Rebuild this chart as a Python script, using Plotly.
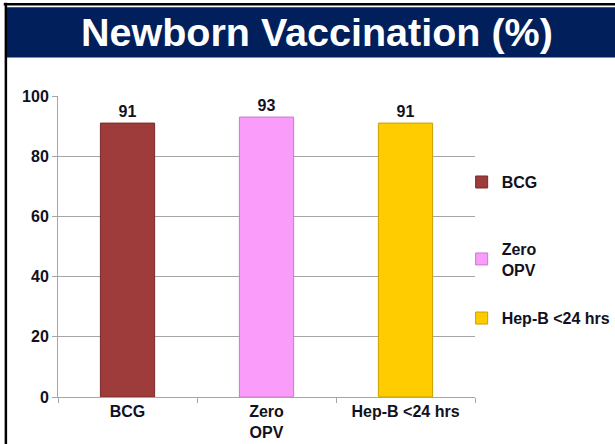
import plotly.graph_objects as go

categories = ["BCG", "Zero<br>OPV", "Hep-B <24 hrs"]
legend_names = ["BCG", "Zero<br>OPV", "Hep-B <24 hrs"]
values = [91, 93, 91]
colors = ["#9E3B3B", "#FA9CFA", "#FFCC00"]
edge_colors = ["#7A2A2A", "#C97BC9", "#C9A000"]
y_ticks = [0, 20, 40, 60, 80, 100]
legend_ids = ["legend", "legend2", "legend3"]
legend_y = [0.714, 0.458, 0.262]

FONT = "Liberation Sans, Arial, sans-serif"
TXT = "#111122"

fig = go.Figure()
for cat, name, v, c, ec, lid in zip(categories, legend_names, values, colors, edge_colors, legend_ids):
    fig.add_trace(go.Bar(
        x=[cat], y=[v], name=name, legend=lid,
        marker=dict(color=c, line=dict(color=ec, width=1)),
        text=[str(v)], textposition="outside",
        textfont=dict(family=FONT, size=16, color=TXT, weight="bold"),
        cliponaxis=False,
    ))

leg_common = dict(x=0.968, xanchor="left", yanchor="middle",
                  font=dict(family=FONT, size=16, color=TXT, weight="bold"),
                  bgcolor="rgba(0,0,0,0)", borderwidth=0)

fig.update_layout(
    template="none",
    width=615, height=444,
    margin=dict(l=58, r=140, t=96, b=47, autoexpand=False),
    paper_bgcolor="white", plot_bgcolor="white",
    barmode="overlay", bargap=0.61,
    showlegend=True,
    legend=dict(y=legend_y[0], **leg_common),
    legend2=dict(y=legend_y[1], **leg_common),
    legend3=dict(y=legend_y[2], **leg_common),
    font=dict(family=FONT, size=16, color=TXT),
    shapes=[
        dict(type="rect", xref="paper", yref="paper",
             x0=-0.125, x1=1.4, y0=1.128, y1=1.295,
             fillcolor="#001F5B", line=dict(width=0), layer="below"),
        dict(type="line", xref="paper", yref="paper",
             x0=-0.125, x1=-0.125, y0=-0.2, y1=1.31,
             line=dict(color="black", width=2.5)),
        dict(type="line", xref="paper", yref="paper",
             x0=-0.13, x1=1.4, y0=1.305, y1=1.305,
             line=dict(color="black", width=2.5)),
    ],
    annotations=[dict(
        text="Newborn Vaccination (%)", xref="paper", yref="paper",
        x=0.62, y=1.212, xanchor="center", yanchor="middle", showarrow=False,
        font=dict(family=FONT, size=39.5, color="white", weight="bold"))],
)
fig.update_yaxes(range=[0, 100], tickvals=y_ticks, showgrid=True, gridcolor="#A6A6A6",
                 gridwidth=1, showline=True, linecolor="#A6A6A6", linewidth=1,
                 ticks="outside", ticklen=5, tickcolor="#A6A6A6", automargin=False,
                 tickfont=dict(family=FONT, size=16, color=TXT, weight="bold"),
                 zeroline=False)
fig.update_xaxes(showline=True, linecolor="#A6A6A6", linewidth=1, ticks="outside",
                 ticklen=5, tickcolor="#A6A6A6", tickson="boundaries", automargin=False,
                 showgrid=False,
                 tickfont=dict(family=FONT, size=16, color=TXT, weight="bold"))
fig.write_html("out.html", post_script="document.body.style.margin='0';",
               config={"displayModeBar": False})
